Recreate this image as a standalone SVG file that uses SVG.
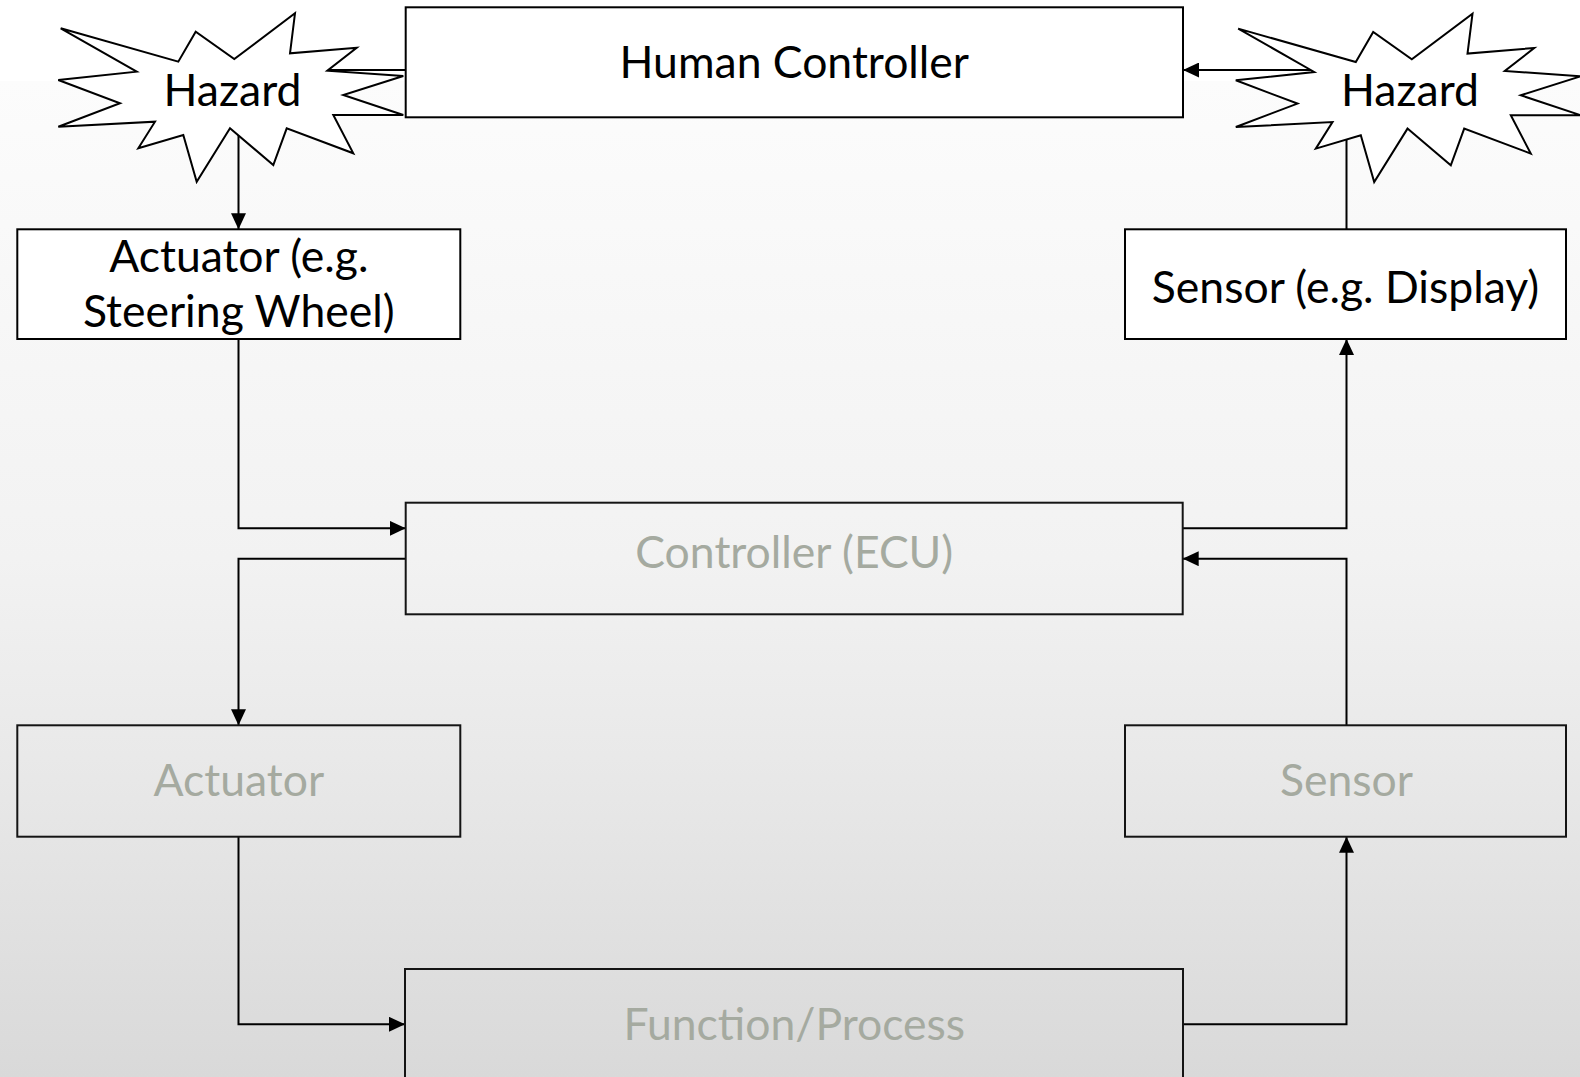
<svg xmlns="http://www.w3.org/2000/svg" xmlns:xlink="http://www.w3.org/1999/xlink" width="1580" height="1077" viewBox="0 0 1580 1077">
  <defs>
    <linearGradient id="bg" x1="0" y1="81" x2="0" y2="1077" gradientUnits="userSpaceOnUse">
      <stop offset="0" stop-color="#fcfcfc"/>
      <stop offset="0.48" stop-color="#f2f2f2"/>
      <stop offset="0.70" stop-color="#e8e8e8"/>
      <stop offset="1" stop-color="#d9d9d9"/>
    </linearGradient>
    <marker id="arrow" markerUnits="userSpaceOnUse" markerWidth="16" markerHeight="15" refX="16" refY="7.5" orient="auto" viewBox="0 0 16 15">
      <path d="M0,0 L16,7.5 L0,15 z" fill="#000"/>
    </marker>
    <polygon id="star" points="60.7,28.3 178.3,61.7 195.7,31.7 234.3,59 295,13.3 290,53.3 356.7,47.7 327.3,70.7 403.3,76 343.3,95 403.3,115 333.3,115 353.3,153.3 286.7,128.3 273.3,165 230,128.3 196.7,181.7 183.3,135 138.3,148.3 155,121.7 58.3,126.7 120,103.3 58.3,80 136.7,71.7"/>
  </defs>
  <style>
    .box { fill: #fff; stroke: #000; stroke-width: 2; }
    .dim { fill: none; stroke: #141414; stroke-width: 2; }
    .wire { fill: none; stroke: #000; stroke-width: 2; marker-end: url(#arrow); }
    .burst { fill: #fff; stroke: #000; stroke-width: 2; stroke-linejoin: miter; }
    .lbl { font-family: Lato, "Liberation Sans", sans-serif; font-size: 44.5px; fill: #000; text-anchor: middle; }
    .faded { fill: #a5aaa0; }
  </style>

  <!-- slide background -->
  <rect x="0" y="0" width="1580" height="1077" fill="#fff"/>
  <rect x="0" y="81" width="1580" height="996" fill="url(#bg)"/>

  <!-- control loop connectors -->
  <g id="connectors">
    <polyline class="wire" points="405.7,70 238.5,70 238.5,229.3"/>
    <polyline class="wire" points="238.5,339 238.5,528.3 405.7,528.3"/>
    <polyline class="wire" points="405.7,558.7 238.5,558.7 238.5,725.3"/>
    <polyline class="wire" points="238.5,836.7 238.5,1024.3 405,1024.3"/>
    <polyline class="wire" points="1183,1024.3 1346.5,1024.3 1346.5,836.7"/>
    <polyline class="wire" points="1346.5,725.3 1346.5,558.7 1182.7,558.7"/>
    <polyline class="wire" points="1182.7,528.3 1346.5,528.3 1346.5,339"/>
    <polyline class="wire" points="1346.5,229.3 1346.5,70 1183,70"/>
  </g>

  <g id="human-controller">
    <rect class="box" x="405.7" y="7.3" width="777.3" height="110"/>
    <text class="lbl" x="794.3" y="78.3">Human Controller</text>
  </g>

  <g id="hazard-left">
    <use xlink:href="#star" href="#star" class="burst"/>
    <text class="lbl" x="232.5" y="106">Hazard</text>
  </g>

  <g id="hazard-right">
    <use xlink:href="#star" href="#star" class="burst" transform="translate(1177.5,0.3)"/>
    <text class="lbl" x="1410" y="106">Hazard</text>
  </g>

  <g id="actuator-steering">
    <rect class="box" x="17.3" y="229.3" width="443" height="109.7"/>
    <text class="lbl" x="238.8" y="271.7">Actuator (e.g.</text>
    <text class="lbl" x="238.8" y="326.7">Steering Wheel)</text>
  </g>

  <g id="sensor-display">
    <rect class="box" x="1125" y="229.3" width="441" height="109.7"/>
    <text class="lbl" x="1345.5" y="303">Sensor (e.g. Display)</text>
  </g>

  <g id="controller-ecu">
    <rect class="dim" x="405.7" y="502.7" width="777" height="111.6"/>
    <text class="lbl faded" x="794.3" y="568.3">Controller (ECU)</text>
  </g>

  <g id="actuator">
    <rect class="dim" x="17.3" y="725.3" width="443" height="111.4"/>
    <text class="lbl faded" x="238.8" y="796">Actuator</text>
  </g>

  <g id="sensor">
    <rect class="dim" x="1125" y="725.3" width="441" height="111.4"/>
    <text class="lbl faded" x="1346.5" y="796">Sensor</text>
  </g>

  <g id="function-process">
    <rect class="dim" x="405" y="969" width="778" height="130"/>
    <text class="lbl faded" x="794.3" y="1040">Function/Process</text>
  </g>
</svg>
